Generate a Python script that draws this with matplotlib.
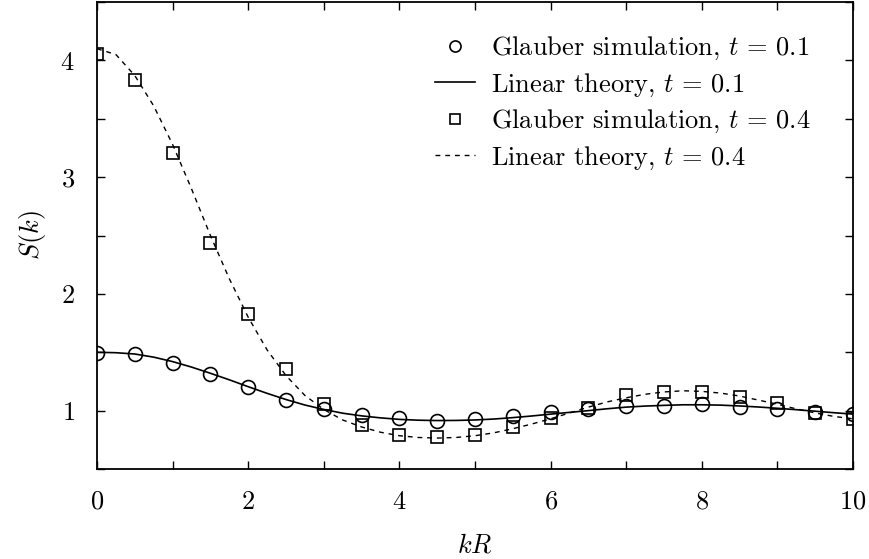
import matplotlib
matplotlib.use("Agg")
import matplotlib.pyplot as plt
from matplotlib.ticker import MultipleLocator

plt.rcParams['font.family'] = 'serif'
plt.rcParams['font.serif'] = ['cmr10', 'DejaVu Serif']
plt.rcParams['mathtext.fontset'] = 'cm'
plt.rcParams['axes.formatter.use_mathtext'] = True

# Simulation points
k_sim = [0, 0.5, 1, 1.5, 2, 2.5, 3, 3.5, 4, 4.5, 5, 5.5, 6, 6.5, 7, 7.5, 8, 8.5, 9, 9.5, 10]
s_sim_01 = [1.495, 1.486, 1.405, 1.31, 1.205, 1.09, 1.01, 0.965, 0.935, 0.915, 0.925, 0.955, 0.985, 1.015,
            1.04, 1.04, 1.055, 1.03, 1.015, 0.99, 0.975]
s_sim_04 = [4.055, 3.83, 3.21, 2.44, 1.83, 1.355, 1.06, 0.88, 0.795, 0.77, 0.79, 0.86, 0.94, 1.02,
            1.135, 1.16, 1.16, 1.115, 1.065, 0.98, 0.93]

# Linear theory curves (read at 0.25 steps)
k_th = [0, 0.25, 0.5, 0.75, 1, 1.25, 1.5, 1.75, 2, 2.25, 2.5, 2.75, 3, 3.25, 3.5, 3.75, 4, 4.25, 4.5,
        4.75, 5, 5.25, 5.5, 5.75, 6, 6.25, 6.5, 6.75, 7, 7.25, 7.5, 7.75, 8, 8.25, 8.5, 8.75, 9, 9.25,
        9.5, 9.75, 10]
s_th_01 = [1.500, 1.496, 1.485, 1.458, 1.420, 1.373, 1.320, 1.264, 1.205, 1.148, 1.095, 1.048, 1.010,
           0.978, 0.955, 0.938, 0.925, 0.918, 0.915, 0.916, 0.920, 0.928, 0.940, 0.954, 0.970, 0.985,
           1.000, 1.016, 1.030, 1.039, 1.045, 1.050, 1.050, 1.047, 1.040, 1.031, 1.020, 1.008, 0.995,
           0.982, 0.970]
s_th_04 = [4.10, 4.05, 3.87, 3.61, 3.28, 2.90, 2.50, 2.13, 1.80, 1.52, 1.30, 1.13, 1.01, 0.92, 0.86,
           0.815, 0.785, 0.77, 0.765, 0.77, 0.785, 0.81, 0.845, 0.885, 0.93, 0.98, 1.03, 1.075, 1.11,
           1.14, 1.16, 1.17, 1.165, 1.15, 1.125, 1.09, 1.055, 1.015, 0.98, 0.95, 0.93]

fig = plt.figure(figsize=(8.7, 5.59), dpi=100)
ax = fig.add_axes([97/870, 1-469/559, (853-97)/870, (469-2)/559])

ax.plot(k_sim, s_sim_01, 'o', mfc='none', mec='black', ms=10, mew=1.2,
        label=r'Glauber simulation, $t\,=\,0.1$')
ax.plot(k_th, s_th_01, '-', color='black', lw=1.2, label=r'Linear theory, $t\,=\,0.1$')
ax.plot(k_sim, s_sim_04, 's', mfc='none', mec='black', ms=9, mew=1.2,
        label=r'Glauber simulation, $t\,=\,0.4$')
ax.plot(k_th, s_th_04, color='black', lw=1.0, linestyle=(0, (3.5, 3.5)),
        label=r'Linear theory, $t\,=\,0.4$')

ax.set_xlim(0, 10)
ax.set_ylim(0.5, 4.5)
ax.xaxis.set_major_locator(MultipleLocator(2))
ax.xaxis.set_minor_locator(MultipleLocator(1))
ax.yaxis.set_major_locator(MultipleLocator(1))
ax.yaxis.set_minor_locator(MultipleLocator(0.5))
ax.tick_params(which='both', direction='in', top=True, right=True, length=6, width=1.0,
               labelsize=19)
ax.tick_params(axis='x', pad=15)
ax.tick_params(axis='y', pad=16)
for sp in ax.spines.values():
    sp.set_linewidth(1.3)

ax.set_xlabel(r'$kR$', fontsize=19, labelpad=14)
ax.set_ylabel(r'$S(k)$', fontsize=19, labelpad=9)

ax.legend(loc='upper right', frameon=False, fontsize=19, markerscale=0.8,
          handlelength=1.5, handletextpad=0.6, labelspacing=0.34,
          bbox_to_anchor=(0.975, 0.98))

fig.savefig('out.png', dpi=100)
